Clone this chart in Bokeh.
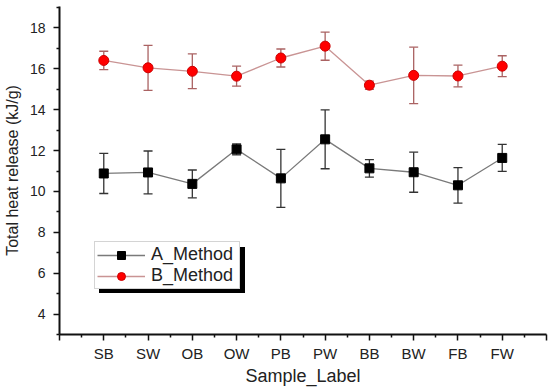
from bokeh.plotting import figure
from bokeh.models import (ColumnDataSource, Range1d, FixedTicker, Whisker, TeeHead,
                          Legend, LegendItem)
from bokeh.embed import file_html
from bokeh.resources import INLINE

labels = ["SB", "SW", "OB", "OW", "PB", "PW", "BB", "BW", "FB", "FW"]
a_mean = [10.88, 10.93, 10.37, 12.06, 10.64, 12.55, 11.13, 10.94, 10.3, 11.64]
a_err = [0.98, 1.05, 0.68, 0.27, 1.42, 1.44, 0.43, 0.98, 0.87, 0.66]
b_mean = [16.41, 16.05, 15.88, 15.64, 16.53, 17.11, 15.2, 15.68, 15.65, 16.13]
b_err = [0.45, 1.1, 0.85, 0.49, 0.44, 0.69, 0.2, 1.38, 0.53, 0.51]

x = list(range(1, len(labels) + 1))
src = ColumnDataSource(dict(
    x=x, a=a_mean, b=b_mean,
    a_lo=[m - e for m, e in zip(a_mean, a_err)], a_hi=[m + e for m, e in zip(a_mean, a_err)],
    b_lo=[m - e for m, e in zip(b_mean, b_err)], b_hi=[m + e for m, e in zip(b_mean, b_err)],
))

FONT = "Liberation Sans"
p = figure(width=550, height=388, output_backend="svg", toolbar_location=None,
           x_range=Range1d(0, 11), y_range=Range1d(3, 19.05),
           min_border_left=57, min_border_right=4, min_border_top=6, min_border_bottom=54)
p.outline_line_color = None
p.xgrid.visible = False
p.ygrid.visible = False
p.background_fill_color = "white"

# error bars
wa = Whisker(base="x", upper="a_hi", lower="a_lo", source=src, line_color="#333333", line_width=1.3,
             upper_head=TeeHead(size=9, line_color="#333333", line_width=1.3),
             lower_head=TeeHead(size=9, line_color="#333333", line_width=1.3))
wb = Whisker(base="x", upper="b_hi", lower="b_lo", source=src, line_color="#aa6262", line_width=1.3,
             upper_head=TeeHead(size=9, line_color="#aa6262", line_width=1.3),
             lower_head=TeeHead(size=9, line_color="#aa6262", line_width=1.3))
p.add_layout(wa)
p.add_layout(wb)

la = p.line("x", "a", source=src, line_color="#7a7a7a", line_width=1.3)
sa = p.scatter("x", "a", source=src, marker="square", size=9, fill_color="black", line_color="black")
lb = p.line("x", "b", source=src, line_color="#c99494", line_width=1.3)
sb = p.scatter("x", "b", source=src, marker="circle", size=10, fill_color="#ff0000", line_color="#cc0000")

# axes
for ax in (p.xaxis[0], p.yaxis[0]):
    ax.axis_line_width = 2
    ax.axis_line_color = "#111111"
    ax.major_tick_line_width = 1.5
    ax.minor_tick_line_width = 1.5
    ax.major_tick_line_color = "#111111"
    ax.minor_tick_line_color = "#111111"
    ax.major_tick_out = 6
    ax.major_tick_in = 0
    ax.minor_tick_out = 3
    ax.minor_tick_in = 0
    ax.major_label_text_font = FONT
    ax.major_label_text_color = "#222222"
    ax.axis_label_text_font = FONT
    ax.axis_label_text_font_style = "normal"
    ax.axis_label_text_color = "#222222"

p.xaxis.ticker = FixedTicker(ticks=list(range(0, len(labels) + 2)),
                             minor_ticks=[i + 0.5 for i in range(0, len(labels) + 1)])
overrides = {0: "", len(labels) + 1: ""}
overrides.update({i: lab for i, lab in zip(x, labels)})
p.xaxis.major_label_overrides = overrides
p.xaxis.axis_label = "Sample_Label"
p.xaxis.major_label_text_font_size = "15px"
p.xaxis.axis_label_text_font_size = "18px"
p.xaxis.major_label_standoff = 4
p.xaxis.axis_label_standoff = 1

p.yaxis.ticker = FixedTicker(ticks=[4, 6, 8, 10, 12, 14, 16, 18],
                             minor_ticks=[3, 5, 7, 9, 11, 13, 15, 17, 19])
p.yaxis.axis_label = "Total heat release (kJ/g)"
p.yaxis.major_label_text_font_size = "14px"
p.yaxis.axis_label_text_font_size = "16px"
p.yaxis.major_label_standoff = 8
p.yaxis.axis_label_standoff = 6

# legend (with drop shadow drawn by a black legend behind it)
dummy = p.scatter([], [], marker="square", size=1, fill_color="black", line_color="black")
shadow = Legend(items=[LegendItem(label=" ", renderers=[dummy]),
                       LegendItem(label=" ", renderers=[dummy])],
                location=(40, 41))
leg = Legend(items=[LegendItem(label="A_Method", renderers=[la, sa]),
                    LegendItem(label="B_Method", renderers=[lb, sb])],
             location=(35, 45))
for lg, shadow_mode in ((shadow, True), (leg, False)):
    lg.label_text_font = FONT
    lg.label_text_font_size = "18px"
    lg.glyph_width = 48
    lg.glyph_height = 20
    lg.label_height = 20
    lg.label_width = 86
    lg.label_standoff = 6
    lg.padding = 2
    lg.spacing = 0
    lg.margin = 0
    lg.border_line_width = 1
    if shadow_mode:
        lg.background_fill_color = "black"
        lg.background_fill_alpha = 1
        lg.border_line_color = "black"
        lg.label_text_color = "black"
    else:
        lg.background_fill_color = "white"
        lg.background_fill_alpha = 1
        lg.border_line_color = "#aaaaaa"
        lg.label_text_color = "#222222"
p.add_layout(shadow, "center")
p.add_layout(leg, "center")

open("out.html", "w").write(file_html(p, INLINE))
